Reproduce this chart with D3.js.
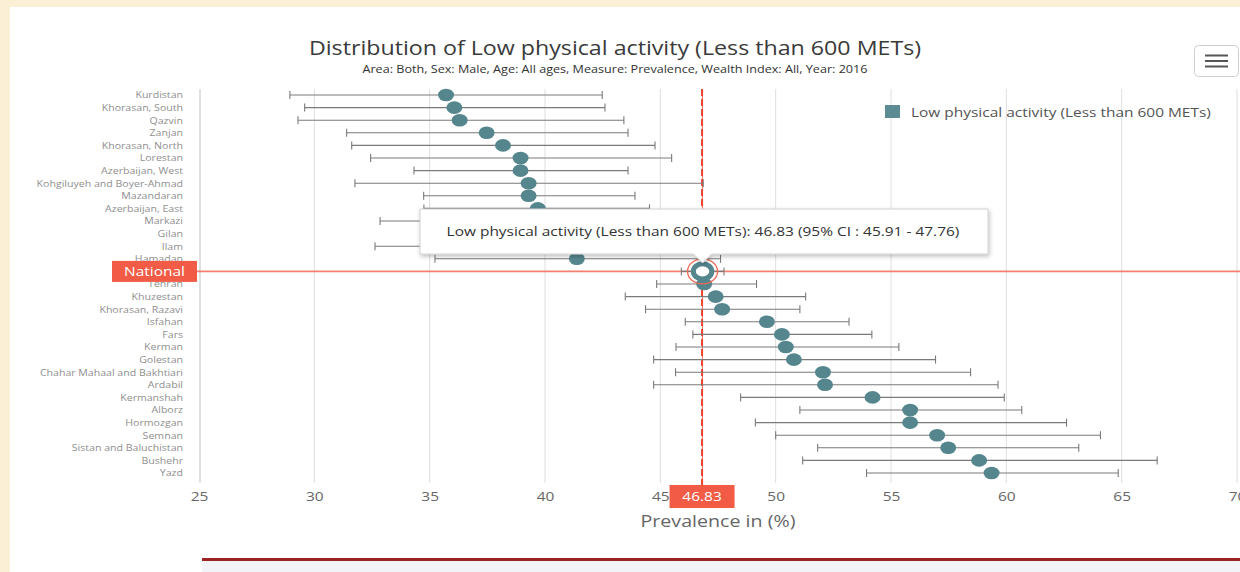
<!DOCTYPE html>
<html>
<head>
<meta charset="utf-8">
<script src="https://cdn.jsdelivr.net/npm/d3@7"></script>
<style>
  html, body { margin: 0; padding: 0; background: #fbefd6; }
  svg { display: block; font-family: "Open Sans", "Noto Sans", sans-serif; }
</style>
</head>
<body>
<svg id="chart" width="1240" height="572"></svg>
<script>
// Provinces, top to bottom (the national estimate sits in its own row)
const categories = [
  "Kurdistan", "Khorasan, South", "Qazvin", "Zanjan", "Khorasan, North", "Lorestan",
  "Azerbaijan, West", "Kohgiluyeh and Boyer-Ahmad", "Mazandaran", "Azerbaijan, East",
  "Markazi", "Gilan", "Ilam", "Hamadan", "National", "Tehran", "Khuzestan",
  "Khorasan, Razavi", "Isfahan", "Fars", "Kerman", "Golestan",
  "Chahar Mahaal and Bakhtiari", "Ardabil", "Kermanshah", "Alborz", "Hormozgan",
  "Semnan", "Sistan and Baluchistan", "Bushehr", "Yazd"
];
// Prevalence (%) and 95% confidence limits, same order as categories
const estimate = [
  35.71, 36.07, 36.30, 37.47, 38.18, 38.94, 38.94, 39.29, 39.29, 39.69,
  39.95, 40.35, 40.80, 41.38, 46.83, 46.90, 47.40, 47.68, 49.62, 50.27,
  50.44, 50.79, 52.05, 52.14, 54.20, 55.83, 55.83, 57.00, 57.48, 58.82, 59.36
];
const lower = [
  28.94, 29.58, 29.29, 31.40, 31.62, 32.44, 34.32, 31.76, 34.74, 34.75,
  32.85, 35.30, 32.63, 35.23, 45.91, 44.84, 43.48, 44.36, 46.08, 46.41,
  45.68, 44.71, 45.66, 44.71, 48.48, 51.05, 49.12, 50.00, 51.82, 51.17, 53.94
];
const upper = [
  42.48, 42.60, 43.42, 43.60, 44.77, 45.49, 43.60, 46.86, 43.90, 44.53,
  46.90, 45.60, 48.80, 47.61, 47.76, 49.17, 51.30, 51.05, 53.18, 54.17,
  55.34, 56.93, 58.45, 59.64, 59.91, 60.67, 62.61, 64.08, 63.14, 66.54, 64.85
];
const xTicks = [25, 30, 35, 40, 45, 50, 55, 60, 65, 70];
const seriesName = "Low physical activity (Less than 600 METs)";
const nationalName = "National";

const nationalIdx = categories.indexOf(nationalName);
const nationalValue = estimate[nationalIdx];

const svg = d3.select("#chart");
const W = 1240, H = 572;
const SX = 1.19; // horizontal text stretch

// page panels
svg.append("rect").attr("x", 10).attr("y", 7).attr("width", W - 10).attr("height", H - 7).attr("fill", "#ffffff");
svg.append("rect").attr("x", 202).attr("y", 561).attr("width", W - 202).attr("height", 11).attr("fill", "#f2f3f6");
svg.append("rect").attr("x", 202).attr("y", 558).attr("width", W - 202).attr("height", 3).attr("fill", "#9a2323");

const plotTop = 89, plotBottom = 483;
const x = d3.scaleLinear().domain([25, 70]).range([199, 1237]);
const y = d3.scalePoint().domain(categories).range([95, 473]);

// titles
svg.append("text").attr("x", 615).attr("y", 55).attr("text-anchor", "middle")
  .attr("font-size", 19.5).attr("fill", "#3a3a3a")
  .text("Distribution of " + seriesName);
svg.append("text").attr("x", 615).attr("y", 73).attr("text-anchor", "middle")
  .attr("font-size", 10.6).attr("fill", "#333")
  .text("Area: Both, Sex: Male, Age: All ages, Measure: Prevalence, Wealth Index: All, Year: 2016");

// vertical grid
svg.append("g").selectAll("line").data(xTicks.slice(1)).join("line")
  .attr("x1", d => x(d)).attr("x2", d => x(d))
  .attr("y1", plotTop).attr("y2", plotBottom)
  .attr("stroke", "#dedede").attr("stroke-width", 1);
svg.append("line").attr("x1", 200).attr("x2", 200).attr("y1", plotTop).attr("y2", plotBottom)
  .attr("stroke", "#d6d6d6").attr("stroke-width", 1.5);

// x axis
const xAxis = d3.axisBottom(x).tickValues(xTicks).tickSize(0).tickPadding(0);
const gx = svg.append("g").attr("transform", `translate(0,${plotBottom + 9})`).call(xAxis);
gx.select(".domain").remove();
gx.selectAll("text").attr("font-size", 13).attr("fill", "#666")
  .attr("font-family", "\"Open Sans\", sans-serif").attr("dy", "0.71em");
svg.append("text").attr("x", 718).attr("y", 527).attr("text-anchor", "middle")
  .attr("font-size", 16.5).attr("fill", "#666").text("Prevalence in (%)");

// y axis labels (National gets its own badge)
const yAxis = d3.axisLeft(y).tickSize(0).tickPadding(0)
  .tickFormat(d => d === nationalName ? "" : d);
const gy = svg.append("g").attr("transform", "translate(183,0)").call(yAxis);
gy.select(".domain").remove();
gy.selectAll("text").attr("font-size", 8.9).attr("fill", "#8f8f8f")
  .attr("font-family", "\"Open Sans\", sans-serif");

// national reference lines
svg.append("line").attr("x1", 197).attr("x2", W).attr("y1", 271.4).attr("y2", 271.4)
  .attr("stroke", "#f36a56").attr("stroke-width", 1.6).attr("stroke-opacity", 0.85);
svg.append("line").attr("x1", x(nationalValue)).attr("x2", x(nationalValue))
  .attr("y1", plotTop).attr("y2", 486).attr("stroke", "#f4735f").attr("stroke-width", 1);
svg.append("line").attr("x1", x(nationalValue) - 0.5).attr("x2", x(nationalValue) - 0.5)
  .attr("y1", plotTop).attr("y2", 486).attr("stroke", "#f2432f").attr("stroke-width", 2)
  .attr("stroke-dasharray", "7,3");

// error bars
const idx = d3.range(categories.length);
const eb = svg.append("g").attr("stroke", "#7a7a7a").attr("stroke-width", 1.1);
eb.selectAll("line.bar").data(idx).join("line").attr("class", "bar")
  .attr("x1", i => x(lower[i])).attr("x2", i => x(upper[i]))
  .attr("y1", i => y(categories[i])).attr("y2", i => y(categories[i]));
eb.selectAll("line.lo").data(idx).join("line").attr("class", "lo")
  .attr("x1", i => x(lower[i])).attr("x2", i => x(lower[i]))
  .attr("y1", i => y(categories[i]) - 4).attr("y2", i => y(categories[i]) + 4);
eb.selectAll("line.hi").data(idx).join("line").attr("class", "hi")
  .attr("x1", i => x(upper[i])).attr("x2", i => x(upper[i]))
  .attr("y1", i => y(categories[i]) - 4).attr("y2", i => y(categories[i]) + 4);

// points
const teal = "#55868e";
svg.append("g").selectAll("ellipse").data(idx.filter(i => i !== nationalIdx)).join("ellipse")
  .attr("cx", i => x(estimate[i])).attr("cy", i => y(categories[i]))
  .attr("rx", 8).attr("ry", 6.3).attr("fill", teal);

// highlighted national point
const nx = x(nationalValue), ny = y(nationalName);
svg.append("ellipse").attr("cx", nx).attr("cy", ny).attr("rx", 15).attr("ry", 12.5)
  .attr("fill", "none").attr("stroke", "#f06a55").attr("stroke-width", 1.3);
svg.append("ellipse").attr("cx", nx).attr("cy", ny).attr("rx", 9.2).attr("ry", 7.6)
  .attr("fill", "#ffffff").attr("stroke", teal).attr("stroke-width", 5);

// National badge
svg.append("rect").attr("x", 112).attr("y", ny - 10.5).attr("width", 85).attr("height", 21)
  .attr("fill", "#f25b45");
svg.append("text").attr("x", 154.5).attr("y", ny + 4.5).attr("text-anchor", "middle")
  .attr("font-size", 13).attr("fill", "#ffffff").text(nationalName);

// value badge on the x axis
svg.append("rect").attr("x", nx - 33).attr("y", 485).attr("width", 65).attr("height", 23)
  .attr("fill", "#f25b45");
svg.append("text").attr("x", nx - 0.5).attr("y", 501).attr("text-anchor", "middle")
  .attr("font-size", 13).attr("fill", "#ffffff").text(nationalValue.toFixed(2));

// legend
svg.append("rect").attr("x", 885).attr("y", 105).attr("width", 15).attr("height", 13).attr("fill", "#5c8b93");
svg.append("text").attr("x", 911).attr("y", 117).attr("font-size", 13).attr("fill", "#555").text(seriesName);

// menu button
svg.append("rect").attr("x", 1194.5).attr("y", 45.5).attr("width", 44).attr("height", 31).attr("rx", 4)
  .attr("fill", "#ffffff").attr("stroke", "#cfcfcf");
svg.append("g").selectAll("line").data([55.5, 61, 66.5]).join("line")
  .attr("x1", 1205).attr("x2", 1228).attr("y1", d => d).attr("y2", d => d)
  .attr("stroke", "#555").attr("stroke-width", 2);

// tooltip
const defs = svg.append("defs");
const f = defs.append("filter").attr("id", "shadow").attr("x", "-10%").attr("y", "-30%").attr("width", "120%").attr("height", "170%");
f.append("feDropShadow").attr("dx", 1).attr("dy", 2).attr("stdDeviation", 2).attr("flood-color", "#000").attr("flood-opacity", 0.25);
const tip = svg.append("g").attr("filter", "url(#shadow)");
const tx0 = 420, tx1 = 988, ty0 = 209, ty1 = 254;
tip.append("path")
  .attr("d", `M${tx0},${ty0} H${tx1} V${ty1} H${nx + 9} L${nx},${ty1 + 9} L${nx - 9},${ty1} H${tx0} Z`)
  .attr("fill", "#ffffff").attr("stroke", "#d0d0d0").attr("stroke-width", 1);
svg.append("text").attr("x", (tx0 + tx1) / 2 - 1).attr("y", 236).attr("text-anchor", "middle")
  .attr("font-size", 13).attr("fill", "#333")
  .text(`${seriesName}: ${nationalValue.toFixed(2)} (95% CI : ${lower[nationalIdx].toFixed(2)} - ${upper[nationalIdx].toFixed(2)})`);

// widen every label horizontally about its own anchor point
svg.selectAll("text").each(function () {
  const t = d3.select(this);
  const ax = +t.attr("x") || 0;
  t.attr("x", ax / SX).attr("transform", `scale(${SX},1)`);
});
</script>
</body>
</html>
